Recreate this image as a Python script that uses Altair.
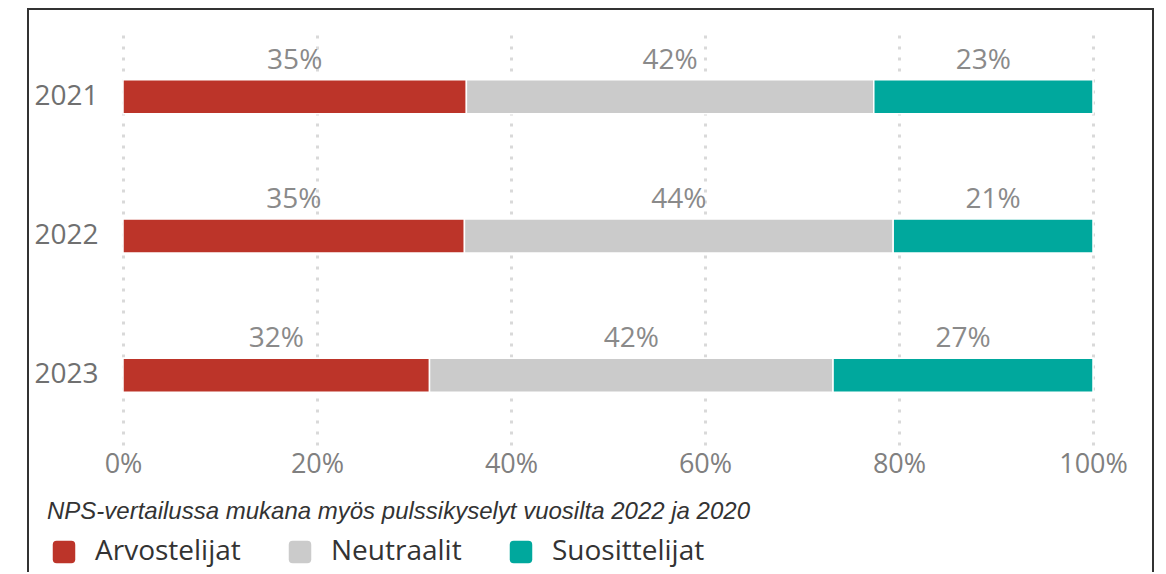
import altair as alt
import pandas as pd

years = ["2021", "2022", "2023"]
categories = ["Arvostelijat", "Neutraalit", "Suosittelijat"]
arvostelijat = [35.4, 35.2, 31.6]
neutraalit = [42.0, 44.2, 41.6]
suosittelijat = [22.6, 20.6, 26.8]
colors = ["#BC3429", "#CBCBCB", "#00A89D"]
x_ticks = [0, 20, 40, 60, 80, 100]
caption = "NPS-vertailussa mukana myös pulssikyselyt vuosilta 2022 ja 2020"

rows = []
for i, y in enumerate(years):
    for k, (cat, vals) in enumerate(zip(categories, [arvostelijat, neutraalit, suosittelijat])):
        rows.append({"year": y, "category": cat, "order": k, "value": vals[i]})
df = pd.DataFrame(rows)

FONT = "Open Sans"

base = alt.Chart(df).transform_stack(
    stack="value", groupby=["year"], as_=["x0", "x1"],
    sort=[alt.SortField("order", order="ascending")]
).transform_calculate(
    mid="(datum.x0 + datum.x1) / 2",
    label="format(round(datum.value), 'd') + '%'"
)

yenc = alt.Y("year:N", sort=years, title=None,
             scale=alt.Scale(paddingInner=0, paddingOuter=0),
             axis=alt.Axis(ticks=False, domain=False, labelPadding=25,
                           labelFont=FONT, labelFontSize=28, labelColor="#707070",
                           grid=False))

bars = base.mark_bar(size=34, stroke="white", strokeWidth=1.5).encode(
    x=alt.X("x0:Q", title=None,
            scale=alt.Scale(domain=[0, 100], nice=False),
            axis=alt.Axis(values=x_ticks, labelExpr="datum.value + '%'",
                          ticks=False, domain=False, labelPadding=6,
                          labelFlush=False,
                          labelFont=FONT, labelFontSize=27, labelColor="#808080",
                          grid=True, gridColor="#d9d9d9", gridWidth=3,
                          gridDash=[3, 8])),
    x2="x1:Q",
    y=yenc,
    color=alt.Color("category:N",
                    scale=alt.Scale(domain=categories, range=colors),
                    legend=alt.Legend(
                        title=caption, orient="none", direction="horizontal",
                        legendX=-76, legendY=473, padding=0,
                        titleFont="Liberation Sans", titleFontStyle="italic",
                        titleFontWeight="normal", titleFontSize=24,
                        titleColor="#333333", titlePadding=14,
                        titleLimit=1000,
                        labelFont=FONT, labelFontSize=28, labelColor="#333333",
                        labelOffset=17, columnPadding=42, symbolOffset=3,
                        symbolType="M-1,-0.65Q-1,-1,-0.65,-1L0.65,-1Q1,-1,1,-0.65L1,0.65Q1,1,0.65,1L-0.65,1Q-1,1,-1,0.65Z",
                        symbolSize=506, symbolStrokeWidth=0, symbolOpacity=1)),
)

labels = base.mark_text(dy=-36, baseline="middle", align="center",
                        font=FONT, fontSize=28, color="#8a8a8a").encode(
    x="mid:Q",
    y=alt.Y("year:N", sort=years),
    text="label:N",
)

border = alt.Chart(alt.Data(values=[{}])).mark_rect(
    fill=None, stroke="#333333", strokeWidth=2
).encode(
    x=alt.value(-95), x2=alt.value(1030),
    y=alt.value(-18), y2=alt.value(620),
)

chart = alt.layer(bars, labels, border).properties(
    width=970, height=418,
    autosize=alt.AutoSizeParams(type="none"),
    padding={"left": 115, "top": 19, "right": 65, "bottom": 127},
).configure_view(stroke=None)

chart.save("out.html", embed_options={"renderer": "svg", "actions": False})
